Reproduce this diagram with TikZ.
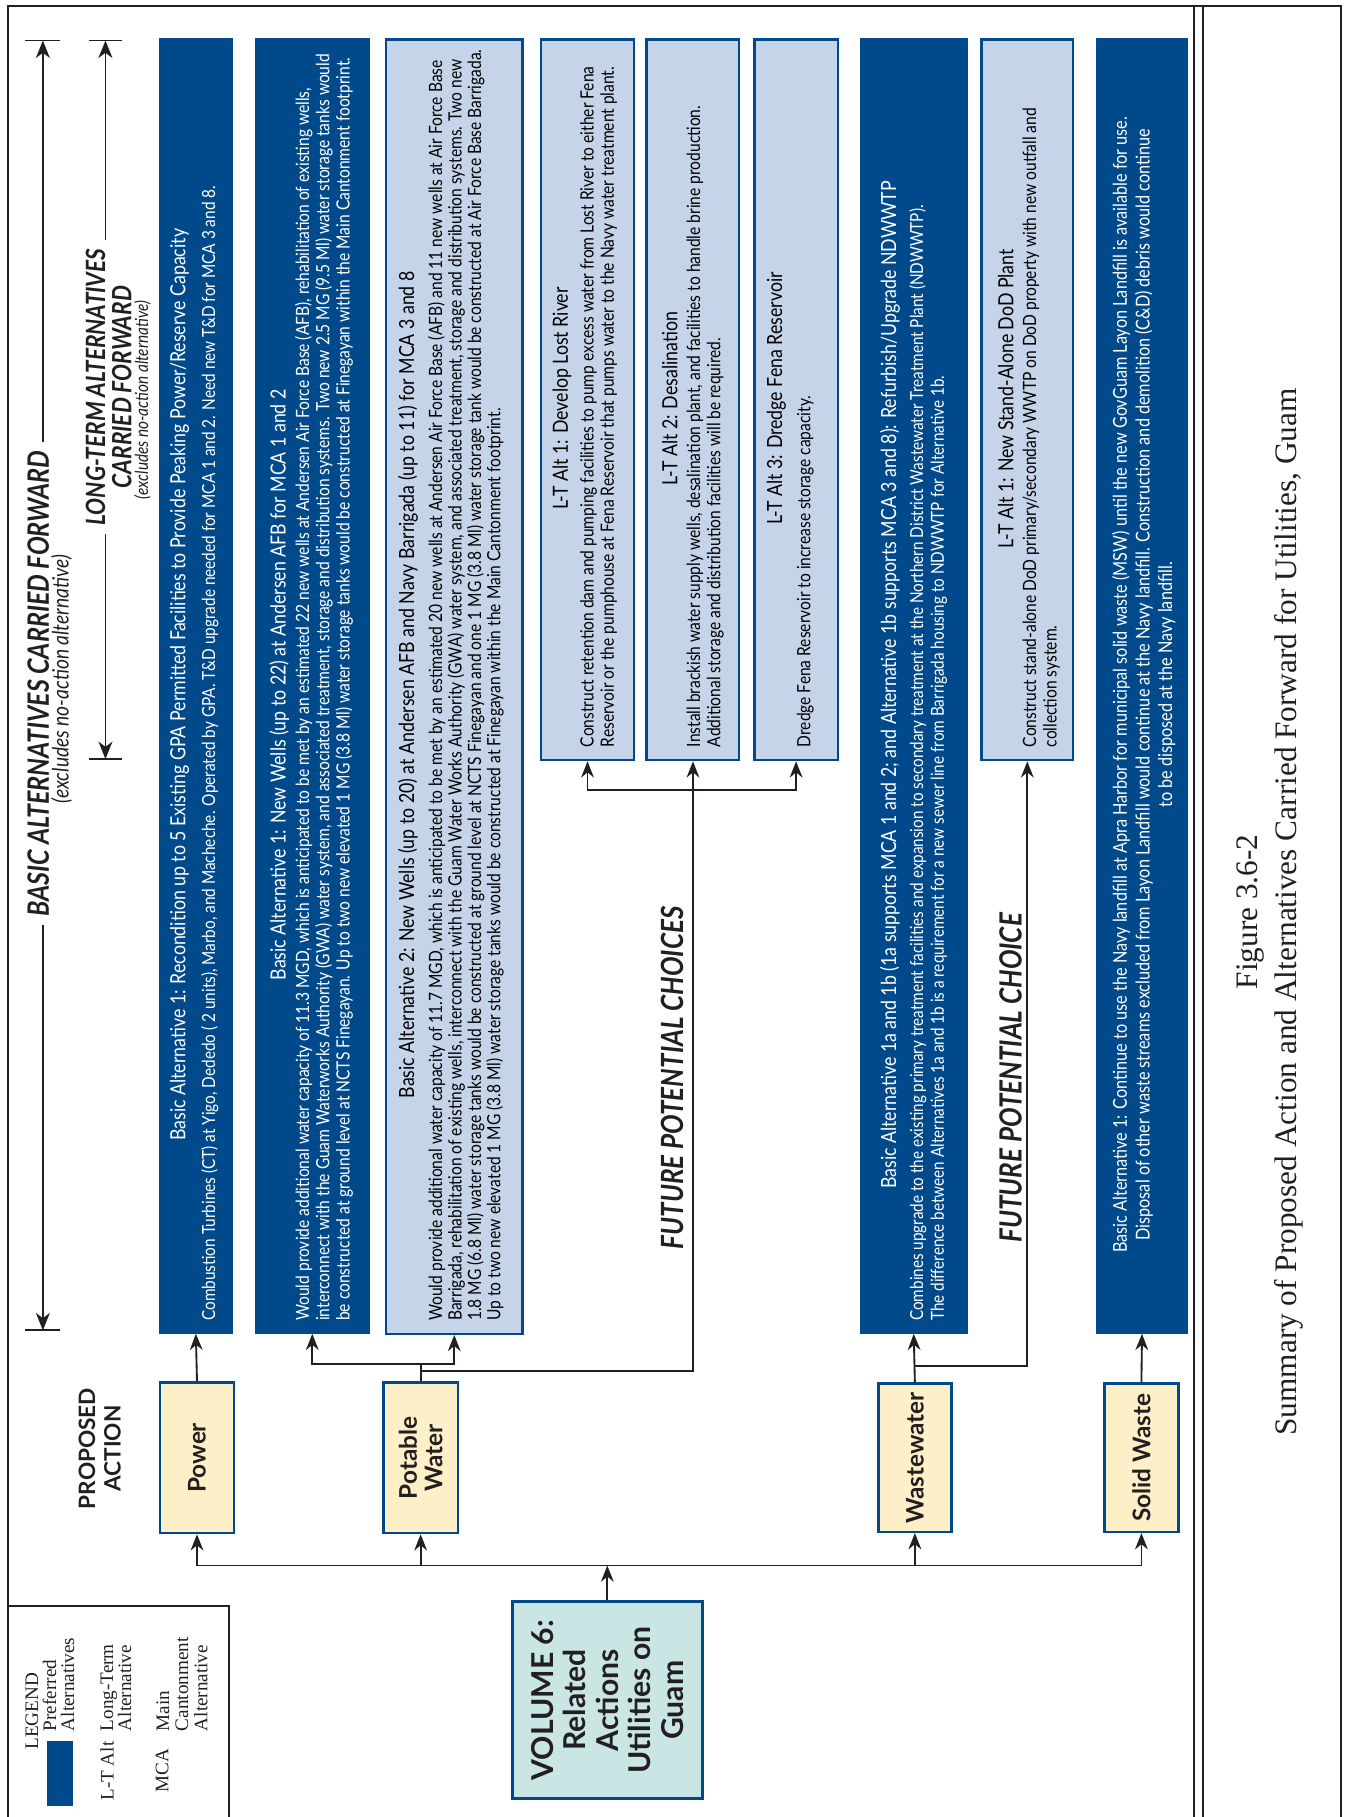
\documentclass[tikz,border=0pt]{standalone}
\usepackage{fontspec}
\setmainfont{Liberation Serif}
\newfontfamily\gs[FakeStretch=0.85]{Lato}
\newfontfamily\gsn{Lato}
\usetikzlibrary{arrows.meta,backgrounds}
\definecolor{dblue}{RGB}{0,74,140}
\definecolor{lblue}{RGB}{198,212,234}
\definecolor{cream}{RGB}{253,240,200}
\definecolor{vteal}{RGB}{201,230,228}
\definecolor{shtop}{RGB}{118,196,204}
\definecolor{shbot}{RGB}{98,154,210}
\definecolor{ink}{RGB}{35,31,32}
\tikzset{
 dbox/.style={fill=dblue, draw=dblue, line width=1pt, inner sep=0pt, anchor=north west},
 lbox/.style={fill=lblue, draw=dblue, line width=2pt, inner sep=0pt, anchor=north west},
 pbox/.style={fill=cream, draw=dblue, line width=2pt, inner sep=0pt, anchor=north west},
 vbox/.style={fill=vteal, draw=dblue, line width=2.2pt, inner sep=0pt, anchor=north west},
 ttl/.style={rotate=90, inner sep=0pt, align=center, font=\gs\fontsize{18}{20}\selectfont},
 bdy/.style={rotate=90, inner sep=0pt, anchor=west, align=left, font=\gs\fontsize{15.8}{17.5}\selectfont},
 wht/.style={text=white},
 lab/.style={rotate=90, inner sep=0pt, align=center, text=ink, font=\gsn\bfseries\fontsize{21}{22}\selectfont},
 conn/.style={line width=1.6pt, draw=ink},
 arr/.style={conn, -{Stealth[length=14pt,width=11pt,inset=4.5pt]}},
 frm/.style={line width=1.8pt, draw=ink},
 dim/.style={line width=1.6pt, draw=ink, -{Stealth[length=15pt,width=12pt,inset=4.5pt]}},
 hd/.style={rotate=90, inner sep=0pt, align=center, text=ink, font=\gs\bfseries\itshape\fontsize{25.4}{26}\selectfont},
 hds/.style={rotate=90, inner sep=0pt, text=ink, font=\gs\itshape\fontsize{19.5}{20}\selectfont},
 leg/.style={rotate=90, inner sep=0pt, anchor=west, align=left, text=ink, font=\fontsize{16.5}{15.5}\selectfont},
 shgrad/.style={top color=shtop, bottom color=shbot},
}
\begin{document}
\begin{tikzpicture}[x=1pt,y=-1pt]
\useasboundingbox (0,0) rectangle (1160,1568);
\clip (0,0) rectangle (1160,1568);
\fill[white] (0,0) rectangle (1160,1568);

% frame
\draw[frm] (7,1580) -- (7,5) -- (1157,5) -- (1157,1580);
\draw[frm] (1030,5) -- (1030,1580);
\draw[frm] (1038,5) -- (1038,1580);
\draw[frm] (7,1386) -- (198,1386) -- (198,1580);

% alternative boxes
\node[dbox, minimum width=63, minimum height=1117] (b1) at (137,33) {};
\node[dbox, minimum width=98, minimum height=1117] (b2) at (220,33) {};
\node[lbox, minimum width=118, minimum height=1117] (b3) at (332,33) {};
\node[lbox, minimum width=80, minimum height=622] (l1) at (466,33) {};
\node[lbox, minimum width=80, minimum height=622] (l2) at (557,33) {};
\node[lbox, minimum width=72, minimum height=622] (l3) at (650,33) {};
\node[dbox, minimum width=92, minimum height=1117] (b7) at (742,33) {};
\node[lbox, minimum width=79, minimum height=622] (l4) at (846,33) {};
\node[dbox, minimum width=78, minimum height=1117] (b9) at (946,33) {};

% proposed action boxes
\node[pbox, minimum width=64, minimum height=130] (pw) at (137,1192) {};
\node[pbox, minimum width=64, minimum height=130] (pot) at (330,1192) {};
\node[pbox, minimum width=63, minimum height=128] (ww) at (757,1193) {};
\node[pbox, minimum width=64, minimum height=128] (sw) at (952,1193) {};
\node[vbox, minimum width=164, minimum height=170] (vol) at (441,1381) {};

\begin{scope}[on background layer]
\foreach \n in {b1,b2,b3,l1,l2,l3,b7,l4,b9,pw,pot,ww,sw,vol}
  \shade[shgrad] ([shift={(6pt,5pt)}]\n.south west) rectangle ([shift={(6pt,5pt)}]\n.north east);
\end{scope}

% labels of proposed actions
\node[lab] (tpw) at (pw.center) {Power};
\node[lab] (tpot) at (pot.center) {Potable\\Water};
\node[lab] (tww) at (ww.center) {Wastewater};
\node[lab] (tsw) at (sw.center) {Solid Waste};
\node[lab, font=\gsn\bfseries\fontsize{26}{28}\selectfont] (tvol) at (vol.center) {VOLUME 6:\\Related\\Actions\\Utilities on\\Guam};
\node[lab, font=\gsn\bfseries\fontsize{19.5}{22}\selectfont] (pa) at (86,1250) {PROPOSED\\ACTION};

% box texts
\node[ttl, wht] (t1) at (155,591) {Basic Alternative 1: Recondition up to 5 Existing GPA Permitted Facilities to Provide Peaking Power/Reserve Capacity};
\node[bdy, wht, font=\gs\fontsize{15.6}{18}\selectfont] (d1) at (181,1140) {Combustion Turbines (CT) at Yigo, Dededo ( 2 units), Marbo, and Macheche. Operated by GPA. T\&D upgrade needed for MCA 1 and 2. Need new T\&D for MCA 3 and 8.};

\node[ttl, wht] (t2) at (241,591) {Basic Alternative 1: New Wells (up to 22) at Andersen AFB for MCA 1 and 2};
\node[bdy, wht] (d2) at (279.5,1140) {Would provide additional water capacity of 11.3 MGD, which is anticipated to be met by an estimated 22 new wells at Andersen Air Force Base (AFB), rehabilitation of existing wells,\\
interconnect with the Guam Waterworks Authority (GWA) water system, and associated treatment, storage and distribution systems. Two new 2.5 MG (9.5 Ml) water storage tanks would\\
be constructed at ground level at NCTS Finegayan. Up to two new elevated 1 MG (3.8 Ml) water storage tanks would be constructed at Finegayan within the Main Cantonment footprint.};

\node[ttl] (t3) at (352,591) {Basic Alternative 2: New Wells (up to 20) at Andersen AFB and Navy Barrigada (up to 11) for MCA 3 and 8};
\node[bdy, font=\gs\fontsize{15.8}{16.8}\selectfont] (d3) at (402,1140) {Would provide additional water capacity of 11.7 MGD, which is anticipated to be met by an estimated 20 new wells at Andersen Air Force Base (AFB) and 11 new wells at Air Force Base\\
Barrigada, rehabilitation of existing wells, interconnect with the Guam Water Works Authority (GWA) water system, and associated treatment, storage and distribution systems. Two new\\
1.8 MG (6.8 Ml) water storage tanks would be constructed at ground level at NCTS Finegayan and one 1 MG (3.8 Ml) water storage tank would be constructed at Air Force Base Barrigada.\\
Up to two new elevated 1 MG (3.8 Ml) water storage tanks would be constructed at Finegayan within the Main Cantonment footprint.};

\node[ttl] (t4) at (485,344) {L-T Alt 1: Develop Lost River};
\node[bdy] (d4) at (516.5,645) {Construct retention dam and pumping facilities to pump excess water from Lost River to either Fena\\
Reservoir or the pumphouse at Fena Reservoir that pumps water to the Navy water treatment plant.};

\node[ttl] (t5) at (578,344) {L-T Alt 2: Desalination};
\node[bdy] (d5) at (608.5,645) {Install brackish water supply wells, desalination plant, and facilities to handle brine production.\\
Additional storage and distribution facilities will be required.};

\node[ttl] (t6) at (670,344) {L-T Alt 3: Dredge Fena Reservoir};
\node[bdy] (d6) at (695,645) {Dredge Fena Reservoir to increase storage capacity.};

\node[ttl, wht] (t7) at (768,591) {Basic Alternative 1a and 1b (1a supports MCA 1 and 2; and Alternative 1b supports MCA 3 and 8): Refurbish/Upgrade NDWWTP};
\node[bdy, wht, font=\gs\fontsize{15.5}{18}\selectfont] (d7) at (801,1140) {Combines upgrade to the existing primary treatment facilities and expansion to secondary treatment at the Northern District Wastewater Treatment Plant (NDWWTP).\\
The difference between Alternatives 1a and 1b is a requirement for a new sewer line from Barrigada housing to NDWWTP for Alternative 1b.};

\node[ttl] (t8) at (868,344) {L-T Alt 1: New Stand-Alone DoD Plant};
\node[bdy] (d8) at (898.5,645) {Construct stand-alone DoD primary/secondary WWTP on DoD property with new outfall and\\
collection system.};

\node[ttl, wht, font=\gs\fontsize{16.5}{19.5}\selectfont] (t9) at (987,591) {Basic Alternative 1: Continue to use the Navy landfill at Apra Harbor for municipal solid waste (MSW) until the new GovGuam Layon Landfill is available for use.\\
Disposal of other waste streams excluded from Layon Landfill would continue at the Navy landfill. Construction and demolition (C\&D) debris would continue\\
to be disposed at the Navy landfill.};

% headings
\node[hd] (h1) at (33,590) {BASIC ALTERNATIVES CARRIED FORWARD};
\node[hds] (h1s) at (53,586) {(excludes no-action alternative)};
\node[hd, font=\gs\bfseries\itshape\fontsize{22.9}{24}\selectfont] (h2a) at (82.5,334) {LONG-TERM ALTERNATIVES};
\node[hd, font=\gs\bfseries\itshape\fontsize{22.9}{24}\selectfont] (h2b) at (105,334) {CARRIED FORWARD};
\node[hds, font=\gs\itshape\fontsize{15.6}{17}\selectfont] (h2c) at (123,345) {(excludes no-action alternative)};
\node[hd, font=\gs\bfseries\itshape\fontsize{26.4}{27}\selectfont] (fp1) at (580,930) {FUTURE POTENTIAL CHOICES};
\node[hd, font=\gs\bfseries\itshape\fontsize{26.4}{27}\selectfont] (fp2) at (872,930) {FUTURE POTENTIAL CHOICE};

% dimension arrows
\coordinate (a1t) at (37,35);
\coordinate (a1b) at (37,1148);
\coordinate (a2t) at (91,35);
\coordinate (a2b) at (91,655);
\path ([yshift=7pt]h1.east) coordinate (h1e) ([yshift=-7pt]h1.west) coordinate (h1w);
\path ([yshift=7pt]h2a.east) coordinate (h2e) ([yshift=-7pt]h2a.west) coordinate (h2w);
\draw[dim] (h1e -| a1t) -- (a1t);
\draw[dim] (h1w -| a1b) -- (a1b);
\draw[dim] (h2e -| a2t) -- (a2t);
\draw[dim] (h2w -| a2b) -- (a2b);
\draw[conn] ([xshift=-15pt]a1t) -- ([xshift=15pt]a1t);
\draw[conn] ([xshift=-15pt]a1b) -- ([xshift=15pt]a1b);
\draw[conn] ([xshift=-14pt]a2t) -- ([xshift=14pt]a2t);
\draw[conn] ([xshift=-14pt]a2b) -- ([xshift=14pt]a2b);

% connectors
\coordinate (busL) at (pw.south |- 0,1351);
\coordinate (busR) at (sw.south |- 0,1351);
\draw[conn] (busL) -- (busR);
\draw[arr] (vol.north) -- (vol.north |- busL);
\draw[arr] (busL) -- (pw.south);
\draw[arr] (pot.south |- busL) -- (pot.south);
\draw[arr] (ww.south |- busL) -- (ww.south);
\draw[arr] (busR) -- (sw.south);

\draw[arr] (pw.north) -- (b1.south);

\coordinate (pj) at (pot.north |- 0,1177);
\coordinate (pj2) at (pot.north |- 0,1183);
\draw[conn] (pot.north) -- (pj);
\draw[arr] (pj) -| (b2.south);
\draw[arr] (pj) -| (b3.south);
\coordinate (lt) at (l2.south |- 0,682);
\draw[conn] (pj2) -| (lt);
\draw[arr] (lt) -| (l1.south);
\draw[arr] (lt) -- (l2.south);
\draw[arr] (lt) -| (l3.south);

\coordinate (wj) at (ww.north |- 0,1179);
\draw[arr] (ww.north) -- (b7.south);
\draw[arr] (wj) -| (l4.south);

\draw[arr] (sw.north) -- (b9.south);

% legend
\node[leg] (lg) at (27.5,1510) {LEGEND};
\node[fill=dblue, inner sep=0pt, minimum width=22.5, minimum height=56, anchor=north west] (lsq) at (40.5,1502) {};
\node[leg] (lg1) at (50.5,1494) {Preferred\\Alternatives};
\node[leg] (lg2) at (92.5,1554) {L-T Alt};
\node[leg] (lg3) at (100,1494) {Long-Term\\Alternative};
\node[leg] (lg4) at (140,1547) {MCA};
\node[leg, font=\fontsize{16.5}{16.5}\selectfont] (lg5) at (157,1494) {Main\\Cantonment\\Alternative};

% caption
\node[rotate=90, inner sep=0pt, align=center, text=ink, font=\fontsize{27}{33}\selectfont] (cap) at (1096,787) {Figure 3.6-2\\Summary of Proposed Action and Alternatives Carried Forward for Utilities, Guam};
\end{tikzpicture}
\end{document}
